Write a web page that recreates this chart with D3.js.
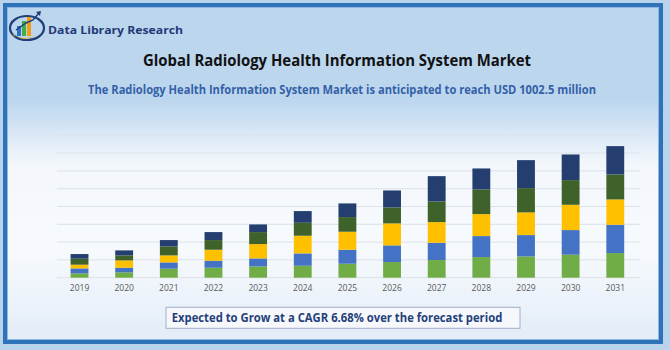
<!DOCTYPE html>
<html>
<head>
<meta charset="utf-8">
<script src="https://cdn.jsdelivr.net/npm/d3@7"></script>
<style>
html,body{margin:0;padding:0;background:#b9d3ec;}
svg{display:block;}
</style>
</head>
<body>
<svg id="chart" width="670" height="350"></svg>
<script>
// ---- data (USD million) ----
const years = ["2019","2020","2021","2022","2023","2024","2025","2026","2027","2028","2029","2030","2031"];
const seriesNames = ["Segment A","Segment B","Segment C","Segment D","Segment E"];
const segA = [33.0, 40.6, 68.5, 76.1, 86.2, 91.3, 106.6, 119.3, 134.5, 157.3, 162.4, 175.1, 187.8];
const segB = [38.1, 35.5, 48.2, 53.3, 60.9, 93.9, 106.6, 126.9, 131.9, 159.9, 162.4, 187.8, 215.6];
const segC = [27.9, 55.8, 53.3, 83.7, 109.1, 134.5, 137.0, 167.5, 157.3, 167.5, 172.6, 192.8, 192.8];
const segD = [45.7, 38.1, 68.5, 73.6, 91.3, 99.0, 111.7, 121.8, 157.3, 187.8, 185.2, 187.8, 190.3];
const segE = [35.5, 38.1, 48.2, 60.9, 58.4, 88.8, 104.1, 129.4, 192.8, 159.9, 213.1, 195.4, 216.0];
const seriesColors = ["#70ad47","#4472c4","#ffc000","#3e6229","#243f6f"];
const yMax = 1085;
const gridCount = 8;

const titleText = "Global Radiology Health Information System Market";
const subtitleText = "The Radiology Health Information System Market is anticipated to reach USD 1002.5 million";
const footText = "Expected to Grow at a CAGR 6.68% over the forecast period";
const brandText = "Data Library Research";

const table = years.map((y,i)=>({year:y, "Segment A":segA[i], "Segment B":segB[i], "Segment C":segC[i], "Segment D":segD[i], "Segment E":segE[i]}));

const svg = d3.select("#chart");
const defs = svg.append("defs");
const grad = defs.append("linearGradient").attr("id","bg").attr("x1",0).attr("y1",0).attr("x2",0).attr("y2",1);
[[0,"#bcd6ee"],[0.28,"#bcd6ee"],[0.47,"#f3f7fc"],[0.72,"#f7fafd"],[1,"#e2ecf7"]].forEach(s=>grad.append("stop").attr("offset",s[0]).attr("stop-color",s[1]));

// outer glow + frame
svg.append("rect").attr("x",0).attr("y",0).attr("width",670).attr("height",350).attr("fill","#b9d3ec");
svg.append("rect").attr("x",5).attr("y",5).attr("width",656).attr("height",337).attr("fill","url(#bg)")
  .attr("stroke","#2e72b8").attr("stroke-width",4);
svg.append("rect").attr("x",7.5).attr("y",7.5).attr("width",651).attr("height",332).attr("fill","none")
  .attr("stroke","#8fb7e2").attr("stroke-width",1);

// logo
const logo = svg.append("g");
logo.append("ellipse").attr("cx",27).attr("cy",28).attr("rx",17).attr("ry",12).attr("fill","none").attr("stroke","#1f3f7a").attr("stroke-width",2.2);
logo.append("path").attr("d","M12,33 Q24,46 44,30 Q30,42 14,36 Z").attr("fill","#f2b800");
logo.append("rect").attr("x",17).attr("y",26).attr("width",4).attr("height",10).attr("fill","#2f6fc0");
logo.append("rect").attr("x",22).attr("y",21).attr("width",4).attr("height",15).attr("fill","#3fae49");
logo.append("rect").attr("x",27).attr("y",17).attr("width",4).attr("height",19).attr("fill","#f39c12");
logo.append("path").attr("d","M16,30 L26,23 L33,20 L39,13").attr("fill","none").attr("stroke","#1f3f7a").attr("stroke-width",1.5);
logo.append("path").attr("d","M36,12 L41,11 L40,16 Z").attr("fill","#1f3f7a");
svg.append("text").attr("x",48).attr("y",34.3).attr("font-family","Open Sans, sans-serif").attr("font-weight","bold")
  .attr("font-size",10).attr("fill","#1f3a78").attr("textLength",135).attr("lengthAdjust","spacingAndGlyphs").text(brandText);

// titles
svg.append("text").attr("x",143).attr("y",66).attr("font-family","Open Sans, sans-serif").attr("font-weight","bold")
  .attr("font-size",15.5).attr("fill","#111").attr("textLength",388).attr("lengthAdjust","spacingAndGlyphs").text(titleText);
svg.append("text").attr("x",88).attr("y",94.3).attr("font-family","Open Sans, sans-serif").attr("font-weight","bold")
  .attr("font-size",11.5).attr("fill","#3461a8").attr("textLength",508).attr("lengthAdjust","spacingAndGlyphs").text(subtitleText);

// scales
const x = d3.scaleBand().domain(years).range([57.2,637.6]).paddingInner(0.6).paddingOuter(0.3);
const y = d3.scaleLinear().domain([0,yMax]).range([277.7,135.3]);

// gridlines
const gridVals = d3.range(0,gridCount+1).map(i=>i*yMax/gridCount);
svg.append("g").selectAll("line").data(gridVals).join("line")
  .attr("x1",57).attr("x2",640).attr("y1",d=>y(d)).attr("y2",d=>y(d))
  .attr("stroke","#dde2e8").attr("stroke-width",1);

// stacked bars
const stack = d3.stack().keys(seriesNames)(table);
svg.append("g").selectAll("g").data(stack).join("g").attr("fill",(d,i)=>seriesColors[i])
  .selectAll("rect").data(d=>d).join("rect")
  .attr("x",d=>x(d.data.year)).attr("width",x.bandwidth())
  .attr("y",d=>y(d[1])).attr("height",d=>y(d[0])-y(d[1]));

// x axis
const xAxis = svg.append("g").attr("transform","translate(0,290.6)").call(d3.axisBottom(x).tickSize(0).tickPadding(0));
xAxis.select(".domain").remove();
xAxis.selectAll("text").attr("font-family","Open Sans, sans-serif").attr("font-size",8.5).attr("fill","#595959").attr("dy","0");

// footer box
svg.append("rect").attr("x",166).attr("y",307.3).attr("width",354).attr("height",21).attr("fill","#f6f8fc").attr("stroke","#9fb0c8").attr("stroke-width",1);
svg.append("text").attr("x",171.7).attr("y",321.7).attr("font-family","Open Sans, sans-serif").attr("font-weight","bold")
  .attr("font-size",11.5).attr("fill","#24407a").attr("textLength",330.6).attr("lengthAdjust","spacingAndGlyphs").text(footText);
</script>
</body>
</html>
